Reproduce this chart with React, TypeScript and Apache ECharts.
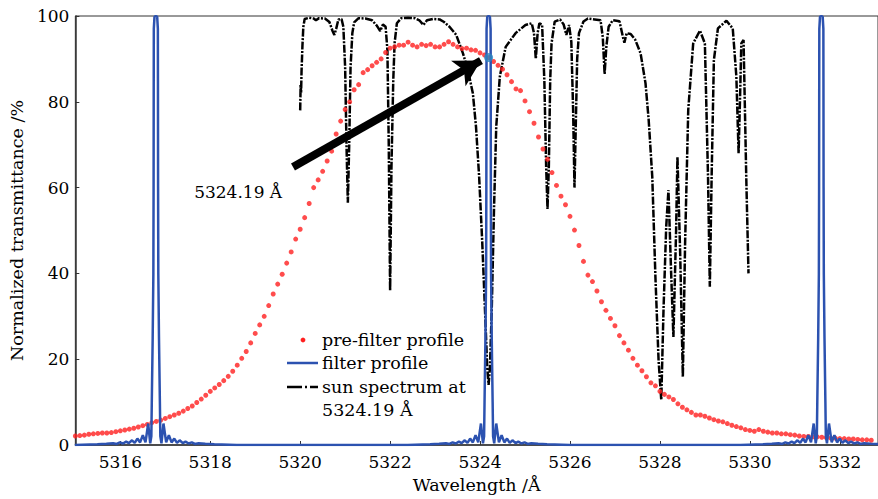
import React, { useEffect, useRef } from "react";
import * as echarts from "echarts";

// Axis ticks
const xTicks = [5316, 5318, 5320, 5322, 5324, 5326, 5328, 5330, 5332];
const yTicks = [0, 20, 40, 60, 80, 100];

// Pre-filter profile: sampled every 0.1 Å starting at 5315.0 Å
const preFilterStart = 5315.0;
const preFilterStep = 0.1;
const preFilterValues = [
  2.1, 2.2, 2.3, 2.5, 2.6, 2.7, 2.8, 2.8, 2.9, 3.1,
  3.3, 3.5, 3.7, 3.9, 4.2, 4.5, 4.8, 5.2, 5.5, 5.8,
  6.2, 6.6, 7.0, 7.4, 7.9, 8.5, 9.1, 9.9, 10.7, 11.6,
  12.5, 13.3, 14.1, 15.0, 16.0, 17.2, 18.6, 20.2, 21.8, 23.8,
  26.0, 28.0, 30.0, 32.5, 35.2, 37.5, 39.8, 42.4, 45.0, 48.0,
  50.3, 53.0, 56.3, 60.0, 61.8, 63.8, 66.2, 68.5, 72.5, 75.5,
  78.2, 80.0, 82.8, 84.0, 86.8, 87.5, 88.4, 89.2, 90.0, 91.5,
  92.5, 92.8, 93.2, 93.2, 93.9, 93.2, 92.8, 93.4, 93.1, 93.4,
  92.8, 92.8, 93.4, 94.0, 93.4, 92.8, 92.4, 92.5, 92.1, 92.0,
  91.4, 90.9, 90.3, 89.4, 88.5, 87.6, 86.3, 84.7, 83.0, 82.6,
  80.2, 77.7, 75.0, 71.8, 69.0, 66.6, 63.5, 60.5, 58.0, 56.0,
  53.3, 50.1, 46.5, 42.8, 39.6, 38.1, 35.9, 33.4, 31.4, 29.5,
  27.8, 25.5, 23.8, 22.1, 20.2, 18.6, 17.3, 15.9, 14.5, 13.8,
  12.5, 11.8, 11.2, 10.6, 9.6, 8.8, 8.2, 7.6, 7.0, 7.0,
  6.7, 6.3, 5.9, 5.6, 5.4, 5.0, 4.6, 4.3, 4.0, 3.6,
  3.4, 3.2, 3.6, 3.2, 3.0, 2.8, 2.8, 2.6, 2.6, 2.4,
  2.3, 2.1, 2.0, 2.0, 1.9, 1.9, 1.8, 1.7, 1.6, 1.6,
  1.5, 1.5, 1.4, 1.4, 1.3, 1.2, 1.2, 1.1,
];

// Filter profile: transmission peaks (same shape at each peak centre)
const filterCenters = [5316.79, 5324.19, 5331.59];
const filterOffsets = [
  -1.8, -1.3, -1.1, -0.95, -0.87, -0.8, -0.73, -0.66, -0.6, -0.53, -0.47, -0.41, -0.35,
  -0.29, -0.23, -0.17, -0.125, -0.1, -0.09, -0.07, -0.055, -0.05, -0.047, -0.045, -0.03, 0,
  0.03, 0.045, 0.047, 0.05, 0.055, 0.07, 0.09, 0.1, 0.125, 0.17, 0.23, 0.29, 0.35, 0.41, 0.47,
  0.53, 0.6, 0.66, 0.73, 0.8, 0.87, 0.95, 1.1, 1.3, 1.8,
];
const filterValues = [
  0, 0.2, 0.3, 0.4, 0.25, 0.6, 0.35, 0.8, 0.45, 1.1, 0.5, 1.5, 0.6,
  2.3, 0.6, 5.0, 0.4, 2, 10, 25, 40, 60, 85, 97, 99.8, 100,
  99.8, 97, 85, 60, 40, 25, 10, 2, 0.4, 5.0, 0.6, 2.3, 0.6, 1.5, 0.5,
  1.1, 0.45, 0.8, 0.35, 0.6, 0.25, 0.4, 0.3, 0.2, 0,
];

// Sun spectrum
const sunWavelengths = [
  5320.0, 5320.01, 5320.02, 5320.03, 5320.05, 5320.07, 5320.1, 5320.2, 5320.3, 5320.35,
  5320.42, 5320.55, 5320.65, 5320.72, 5320.76, 5320.8, 5320.85, 5320.92, 5320.96, 5321.0,
  5321.03, 5321.06, 5321.09, 5321.12, 5321.16, 5321.2, 5321.3, 5321.45, 5321.6, 5321.7,
  5321.78, 5321.84, 5321.9, 5321.94, 5321.97, 5322.0, 5322.03, 5322.07, 5322.1, 5322.15,
  5322.25, 5322.4, 5322.55, 5322.65, 5322.74, 5322.82, 5322.95, 5323.1, 5323.2, 5323.32,
  5323.47, 5323.62, 5323.73, 5323.84, 5323.91, 5323.98, 5324.05, 5324.11, 5324.16, 5324.19,
  5324.22, 5324.26, 5324.31, 5324.36, 5324.44, 5324.57, 5324.79, 5325.01, 5325.15, 5325.2,
  5325.24, 5325.28, 5325.32, 5325.38, 5325.43, 5325.47, 5325.5, 5325.53, 5325.56, 5325.59,
  5325.66, 5325.78, 5325.86, 5325.92, 5325.98, 5326.03, 5326.07, 5326.1, 5326.13, 5326.16,
  5326.2, 5326.3, 5326.4, 5326.55, 5326.68, 5326.73, 5326.77, 5326.81, 5326.86, 5326.95,
  5327.1, 5327.18, 5327.21, 5327.26, 5327.35, 5327.45, 5327.57, 5327.68, 5327.75, 5327.83,
  5327.9, 5327.97, 5328.03, 5328.08, 5328.14, 5328.19, 5328.25, 5328.3, 5328.36, 5328.39,
  5328.45, 5328.51, 5328.56, 5328.63, 5328.74, 5328.89, 5329.0, 5329.07, 5329.11, 5329.15,
  5329.2, 5329.29, 5329.48, 5329.62, 5329.7, 5329.75, 5329.78, 5329.81, 5329.86, 5329.92,
  5329.97,
];
const sunValues = [
  78, 84, 82, 87, 93, 97.5, 99.3, 99.6, 99.4, 99.0,
  99.5, 99.4, 98.6, 96.5, 95.6, 97, 99.2, 99.3, 97.5, 88,
  70, 56.5, 70, 88, 96, 98.5, 99.5, 99.4, 99.0, 97.8,
  96.5, 98.0, 97.5, 92, 70, 36, 65, 85, 93.7, 98.3,
  99.5, 99.6, 99.5, 99.0, 97.9, 99.0, 99.3, 99.2, 98.6, 97.5,
  95.6, 91.3, 87.4, 82, 74.2, 62.5, 47, 31.5, 18, 14,
  18, 31.5, 54.8, 74.2, 85.9, 92.8, 96, 97.9, 98.3, 96,
  90, 96, 98.3, 98.0, 85, 65, 55, 65, 85, 93.6,
  98.7, 99.2, 98, 95.6, 97.9, 94, 78, 60, 75, 90,
  96, 98.7, 99.4, 99.2, 99.0, 95, 86.5, 93, 97.5, 99.0,
  98.8, 95, 93.8, 96, 95.8, 94.5, 91.3, 84.3, 75.8, 62.5,
  39.2, 19.8, 10.5, 31.5, 50.9, 59.4, 40, 25.2, 50, 67.2,
  45, 15.9, 47, 78.1, 93.6, 96.6, 93.6, 62.5, 36.9, 62.5,
  89.7, 97.1, 98.9, 97.1, 85.9, 68, 80, 93.6, 94.4, 62.5,
  40,
];

// Annotation
const markedPoint = [5324.19, 90.3];
const arrowTail = [5319.84, 64.8];
const arrowTip = [5324.02, 89.6];
const annotationPos = [5318.62, 59.0];
const annotationText = "5324.19 Å";

const legendItems = ["pre-filter profile", "filter profile", "sun spectrum at", "5324.19 Å"];

const FONT = "'DejaVu Serif', serif";
const RED = "#ff1f1f";
const BLUE = "#2c52b0";
const TEXT = "#000";

export default function App() {
  const ref = useRef<HTMLDivElement>(null);

  useEffect(() => {
    if (!ref.current) return;
    document.body.style.margin = "0";
    const chart = echarts.init(ref.current, null, { renderer: "svg" });

    const preFilterData = preFilterValues.map((v, i) => [
      +(preFilterStart + i * preFilterStep).toFixed(2),
      v,
    ]);
    const filterData: number[][] = [];
    filterCenters.forEach((c) =>
      filterOffsets.forEach((o, i) => filterData.push([+(c + o).toFixed(3), filterValues[i]]))
    );
    const sunData = sunWavelengths.map((w, i) => [w, sunValues[i]]);

    const legendX = 287;
    const legendTextX = 322;
    const legendY = [340, 363, 387, 410];

    chart.setOption({
      animation: false,
      grid: {
        left: 68,
        top: 16,
        right: -2,
        bottom: 54,
        show: true,
        borderColor: "#333",
        borderWidth: 1,
      },
      xAxis: {
        type: "value",
        min: 5315,
        max: 5332.85,
        name: "Wavelength /Å",
        nameLocation: "middle",
        nameGap: 31,
        nameTextStyle: { fontFamily: FONT, fontSize: 17.5, color: TEXT },
        axisLine: { show: true, onZero: false, lineStyle: { color: "#333", width: 1.5 } },
        axisTick: {
          show: true,
          inside: true,
          length: 4,
          customValues: xTicks,
          lineStyle: { color: "#333" },
        },
        axisLabel: {
          customValues: xTicks,
          formatter: (v: number) => String(v),
          fontFamily: FONT,
          fontSize: 17,
          color: TEXT,
          margin: 8,
        },
        splitLine: { show: false },
      },
      yAxis: {
        type: "value",
        min: 0,
        max: 100,
        interval: 20,
        name: "Normalized transmittance /%",
        nameLocation: "middle",
        nameGap: 40,
        nameTextStyle: { fontFamily: FONT, fontSize: 17.5, color: TEXT },
        axisLine: { show: true, lineStyle: { color: "#333", width: 1.5 } },
        axisTick: {
          show: true,
          inside: true,
          length: 4,
          customValues: yTicks,
          lineStyle: { color: "#333" },
        },
        axisLabel: {
          customValues: yTicks,
          formatter: (v: number) => String(v),
          fontFamily: FONT,
          fontSize: 17,
          color: TEXT,
          margin: 6,
        },
        splitLine: { show: false },
      },
      series: [
        {
          name: "sun spectrum at 5324.19 Å",
          type: "line",
          data: sunData,
          symbol: "none",
          z: 2,
          lineStyle: { color: "#000", width: 2.5, type: [8, 1.5, 2, 1.5] },
        },
        {
          name: "pre-filter profile",
          type: "scatter",
          data: preFilterData,
          symbol: "circle",
          symbolSize: 5,
          z: 3,
          itemStyle: { color: RED },
        },
        {
          name: "filter profile",
          type: "line",
          data: filterData,
          symbol: "none",
          z: 4,
          lineStyle: { color: BLUE, width: 2.5 },
        },
        {
          name: "marked",
          type: "scatter",
          data: [markedPoint],
          symbol: "circle",
          symbolSize: 9,
          z: 6,
          itemStyle: { color: "#2e86c1" },
          markLine: {
            silent: true,
            z: 5,
            symbol: ["none", "arrow"],
            symbolSize: [22, 26],
            label: { show: false },
            lineStyle: { color: "#000", width: 8, type: "solid", opacity: 1 },
            data: [[{ coord: arrowTail }, { coord: arrowTip }]],
          },
          markPoint: {
            silent: true,
            symbol: "circle",
            symbolSize: 0,
            label: {
              show: true,
              formatter: annotationText,
              fontFamily: FONT,
              fontSize: 17,
              color: TEXT,
              position: "inside",
            },
            data: [{ coord: annotationPos }],
          },
        },
      ],
      graphic: [
        {
          type: "circle",
          shape: { cx: legendX + 16, cy: legendY[0], r: 2.4 },
          style: { fill: RED },
        },
        {
          type: "line",
          shape: { x1: legendX, y1: legendY[1], x2: legendX + 31, y2: legendY[1] },
          style: { stroke: BLUE, lineWidth: 2.5 },
        },
        {
          type: "line",
          shape: { x1: legendX, y1: legendY[2], x2: legendX + 31, y2: legendY[2] },
          style: { stroke: "#000", lineWidth: 2.5, lineDash: [15, 3, 2, 3] },
        },
        ...legendItems.map((t, i) => ({
          type: "text",
          x: legendTextX,
          y: legendY[i],
          style: {
            text: t,
            fontFamily: FONT,
            fontSize: 17.5,
            fill: TEXT,
            textVerticalAlign: "middle",
            verticalAlign: "middle",
          },
        })),
      ],
    });

    return () => chart.dispose();
  }, []);

  return <div ref={ref} style={{ width: 878, height: 499 }} />;
}
